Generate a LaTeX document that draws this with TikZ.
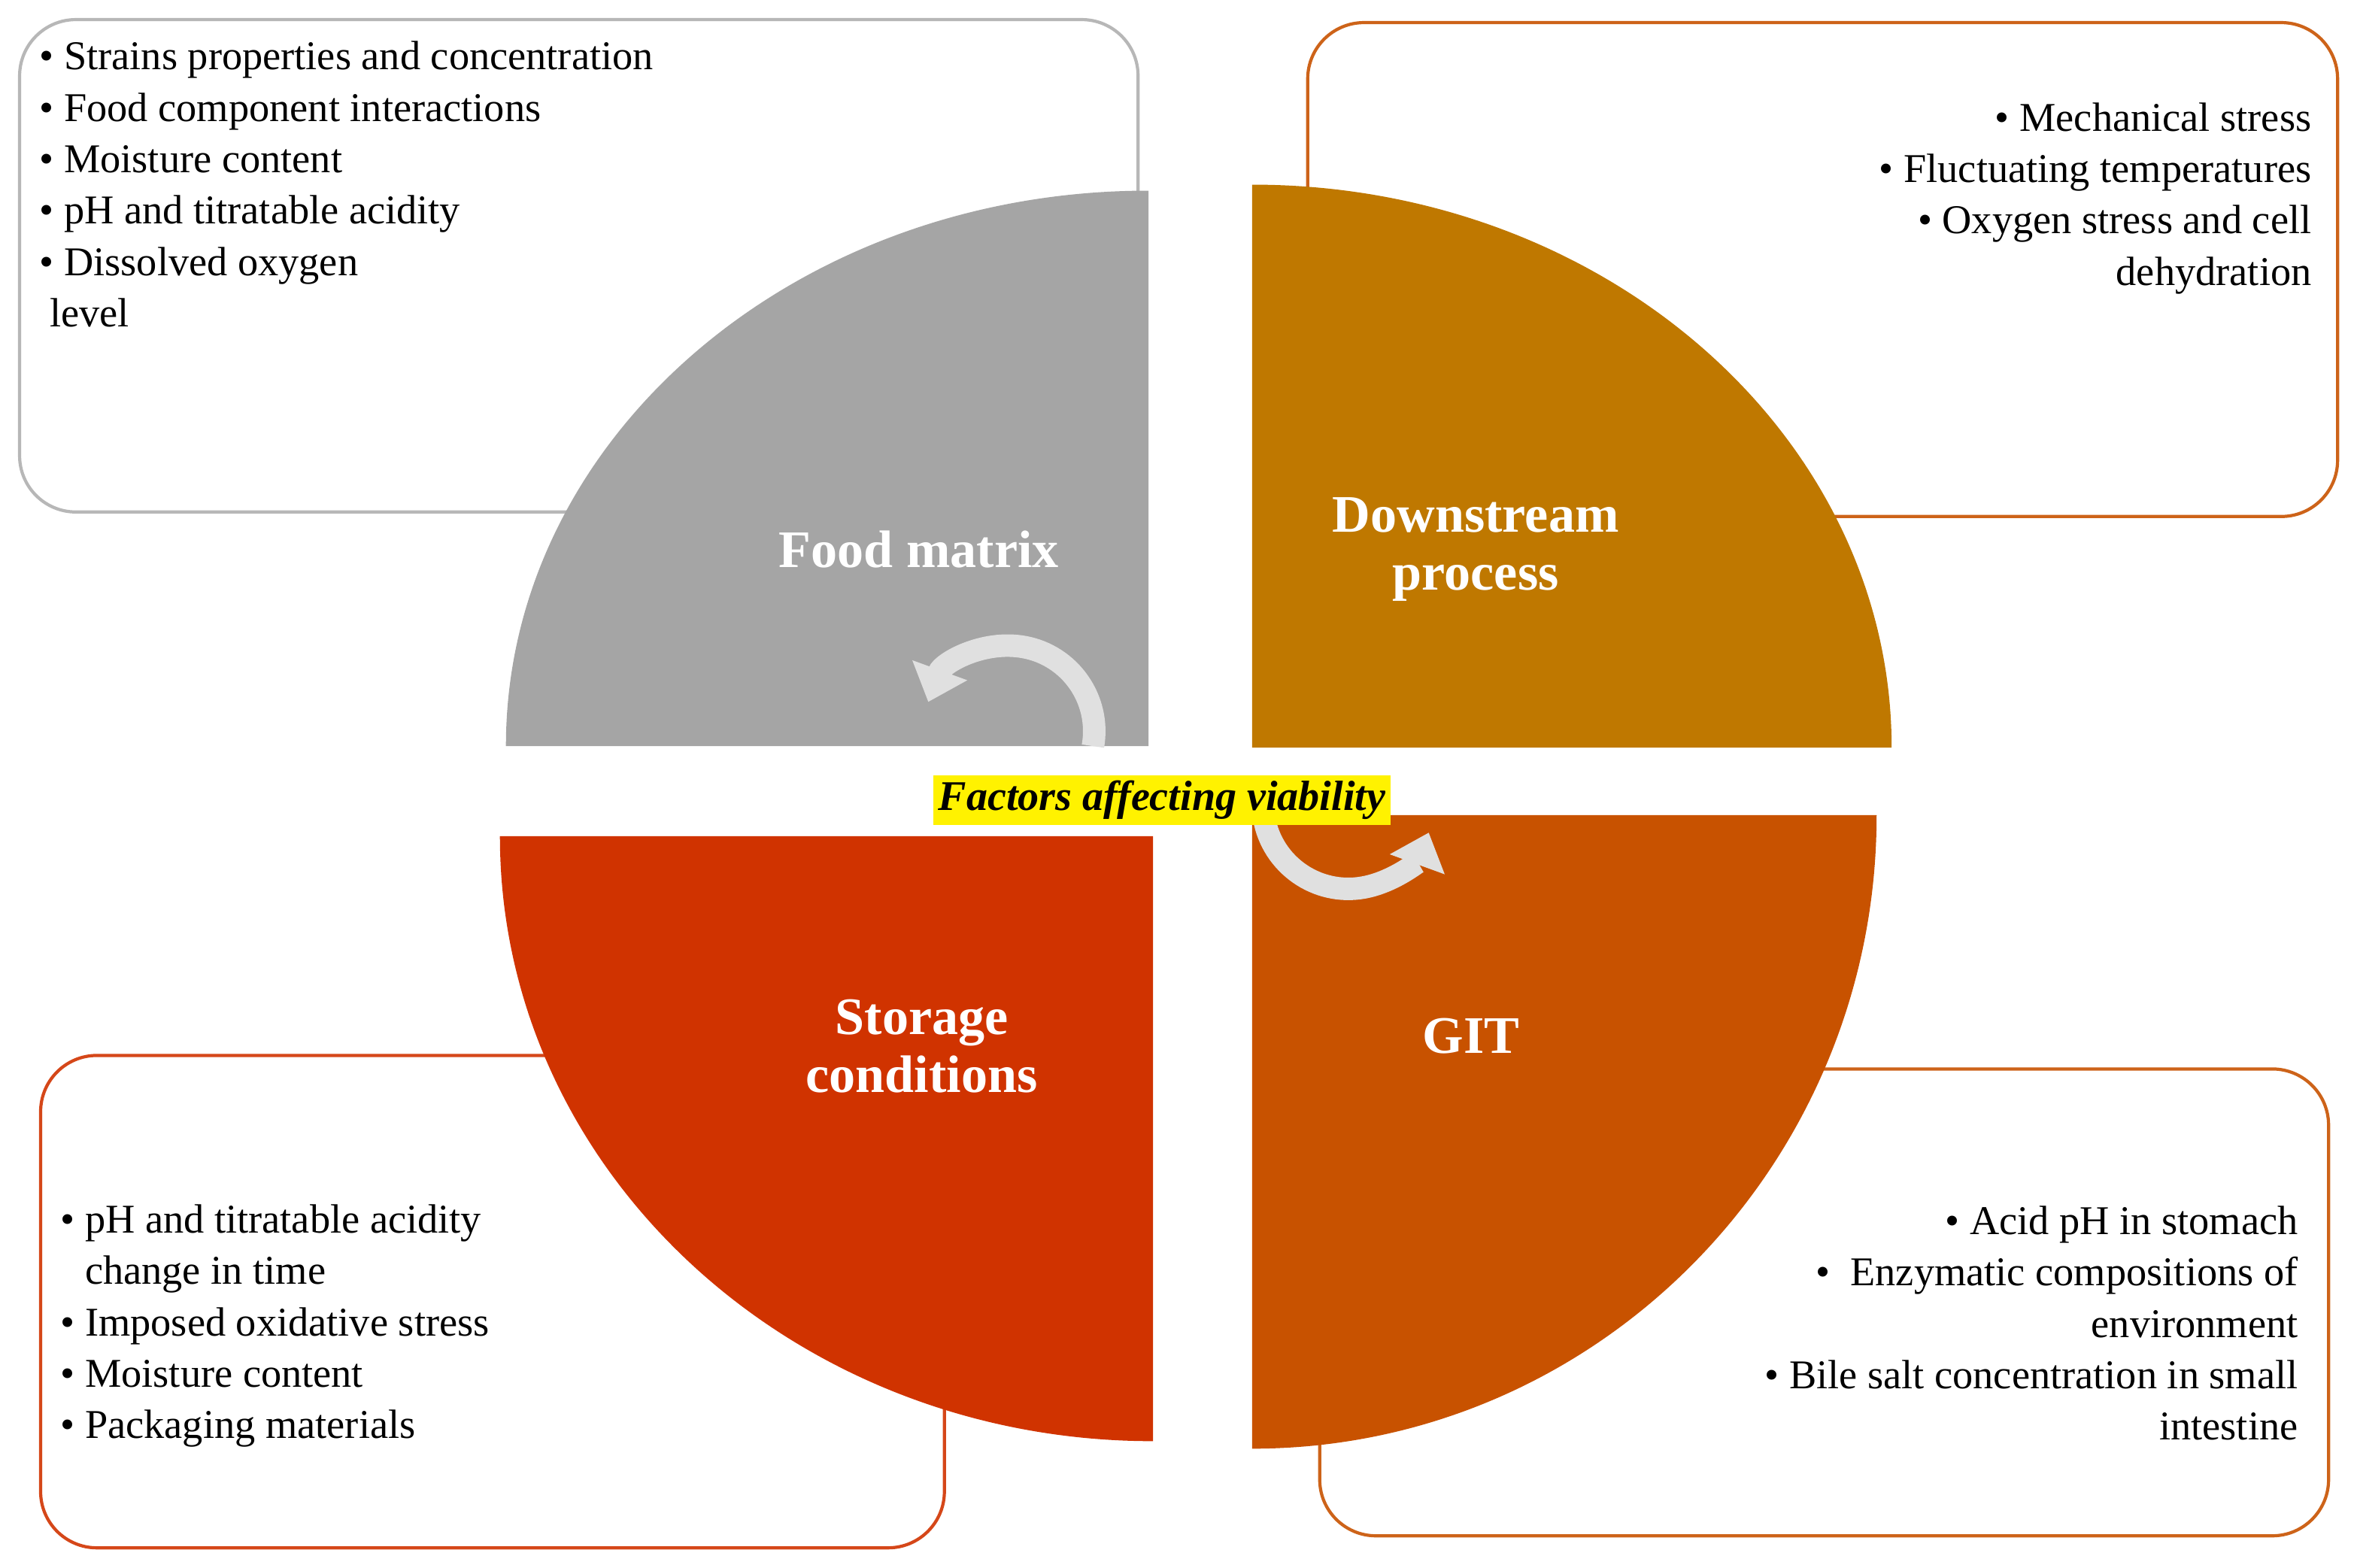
\documentclass[tikz,border=0pt]{standalone}
\usepackage{fontspec}
\setmainfont{Liberation Serif}
\usetikzlibrary{arrows.meta}
\definecolor{cgray}{HTML}{A5A5A5}
\definecolor{cgold}{HTML}{BF7800}
\definecolor{cred}{HTML}{D03300}
\definecolor{corange}{HTML}{C85200}
\definecolor{carrow}{HTML}{E0E0E0}
\begin{document}
\begin{tikzpicture}[x=0.02cm,y=-0.02cm,
  box/.style={draw,line width=1.2pt,rounded corners=0.75cm,fill=white},
  lst/.style={font=\fontsize{15.5}{19.5}\selectfont,inner sep=0pt},
  ttl/.style={font=\fontsize{20}{22}\selectfont\bfseries,text=white,align=center}]
\useasboundingbox (0,0) rectangle (1568,1044);
% boxes
\node[box,draw=cgray!80,minimum width=745*0.02cm,minimum height=328*0.02cm,anchor=north west] (b1) at (12,12) {};
\node[box,draw=corange!90,minimum width=686*0.02cm,minimum height=329*0.02cm,anchor=north west] (b2) at (870,14) {};
\node[box,draw=cred!90,minimum width=602*0.02cm,minimum height=328*0.02cm,anchor=north west] (b3) at (26,702) {};
\node[box,draw=corange!90,minimum width=672*0.02cm,minimum height=311*0.02cm,anchor=north west] (b4) at (878,711) {};
% quarter discs
\fill[cgray] (765,497) -- (337,497) arc[start angle=180,end angle=90,x radius=428,y radius=-370] -- cycle;
\fill[cgold] (834,498) -- (834,123) arc[start angle=90,end angle=0,x radius=426,y radius=-375] -- cycle;
\fill[cred] (768,557) -- (333,557) arc[start angle=180,end angle=270,x radius=435,y radius=-403] -- cycle;
\fill[corange] (834,543) -- (1250,543) arc[start angle=0,end angle=-90,x radius=416,y radius=-422] -- cycle;
% titles
\node[ttl] (t1) at (612,366) {Food matrix};
\node[ttl] (t2) at (983,366) {Downstream\\process};
\node[ttl] (t3) at (614,697) {Storage\\conditions};
\node[ttl] (t4) at (980,690) {GIT};
% circular arrows
\draw[carrow,line width=0.3cm,-{Triangle[width=0.75cm,length=0.45cm]}] (728,497) arc[start angle=190,end angle=20,radius=-57];
\draw[carrow,line width=0.3cm,-{Triangle[width=0.75cm,length=0.45cm]}] (842,545) arc[start angle=-10,end angle=-160,radius=-57];
\node[fill=yellow,inner sep=2pt,font=\fontsize{16}{18}\selectfont\bfseries\itshape] (c) at (774,533) {Factors affecting viability};
% lists
\node[lst,anchor=north west,align=left] (l1) at (26,27) {%
• Strains properties and concentration\\[0.1pt]
• Food component interactions\\
• Moisture content\\
• pH and titratable acidity\\
• Dissolved oxygen\\
\ level};
\node[lst,anchor=north east,align=right] (l2) at (1540,68) {%
• Mechanical stress\\
• Fluctuating temperatures\\
• Oxygen stress and cell\\
dehydration};
\node[lst,anchor=north west,align=left] (l3) at (40,802) {%
• pH and titratable acidity\\
\hphantom{• }change in time\\
• Imposed oxidative stress\\
• Moisture content\\
• Packaging materials};
\node[lst,anchor=north east,align=right] (l4) at (1531,803) {%
• Acid pH in stomach\\
• \ Enzymatic compositions of\\
environment\\
• Bile salt concentration in small\\
intestine};
\end{tikzpicture}
\end{document}
